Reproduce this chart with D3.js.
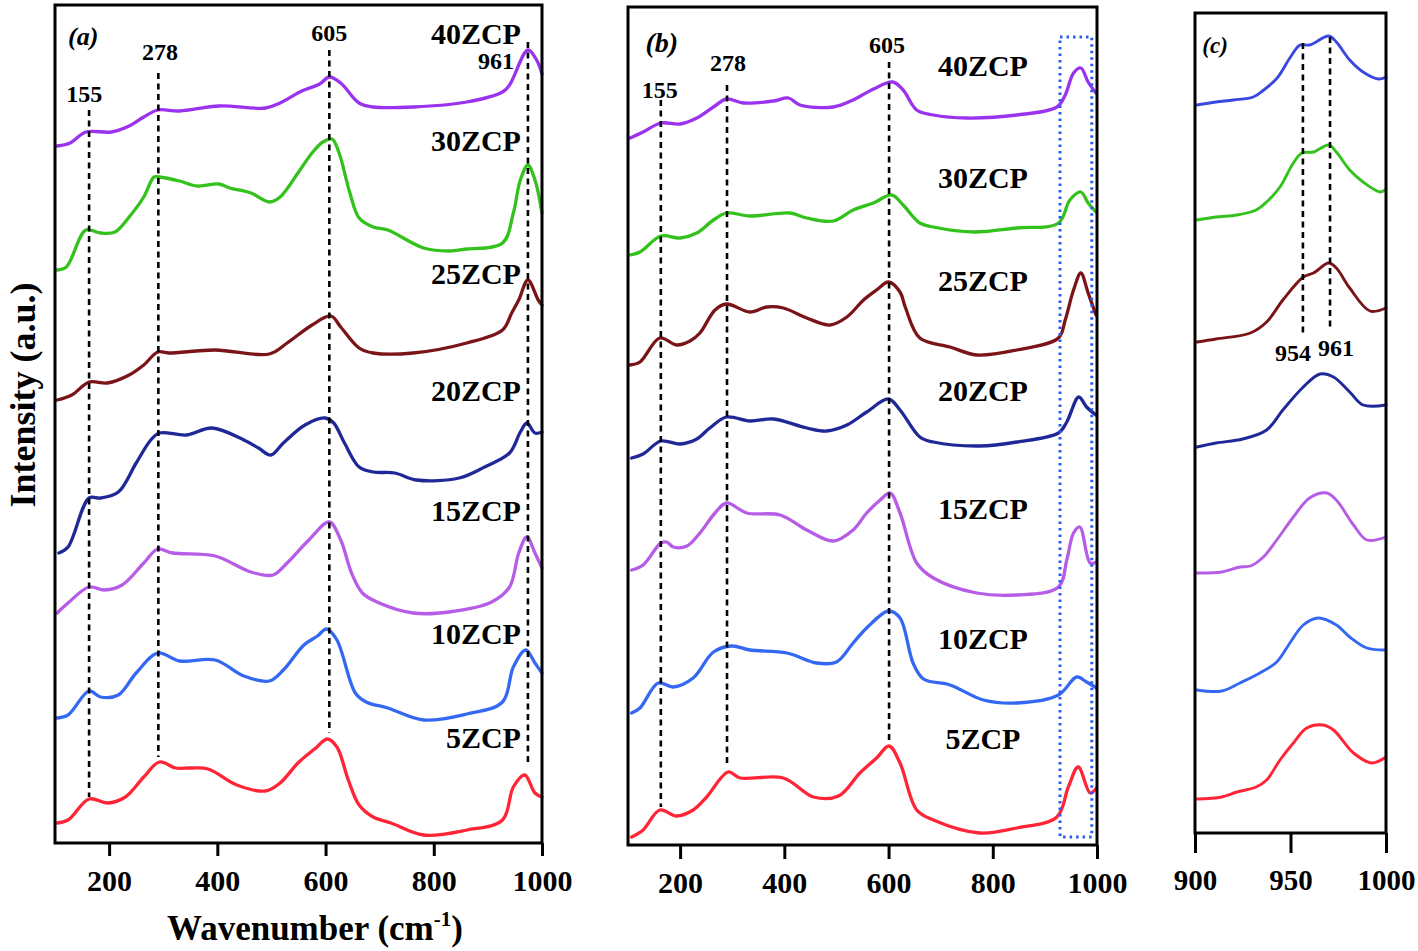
<!DOCTYPE html>
<html><head><meta charset="utf-8">
<script src="https://cdn.jsdelivr.net/npm/d3@7/dist/d3.min.js"></script>
<style>
body{margin:0;background:#fff}
svg{display:block}
text{font-family:"Liberation Serif","Times New Roman",serif;font-weight:bold;fill:#000}
</style>
</head><body>
<svg id="chart" width="1418" height="951"></svg>
<script>
// ---------------- DATA ----------------
const seriesNames = ["40ZCP","30ZCP","25ZCP","20ZCP","15ZCP","10ZCP","5ZCP"];
const tickLabelsMain = [200,400,600,800,1000];
const tickLabelsZoom = [900,950,1000];

// Panel (a): [wavenumber, stacked intensity (a.u.)]
const a40 = [[104,704],[128,707],[157,718],[204,718],[237,724],[264,733],[290,740],[330,739],[403,744],[489,742],[516,747],[556,759],[589,766],[607,773],[628,767],[662,747],[688,743],[762,743],[861,748],[927,758],[940,765],[974,800],[990,790],[1000,776]];
const a30 = [[104,580],[121,583],[157,620],[184,617],[211,618],[237,633],[264,653],[283,673],[293,673],[330,669],[363,664],[403,666],[423,662],[462,657],[496,648],[516,653],[549,677],[575,697],[595,708],[612,711],[625,697],[645,657],[662,632],[688,623],[715,620],[781,602],[828,599],[861,601],[927,607],[947,637],[960,670],[974,685],[987,670],[1000,637]];
const a25 = [[104,450],[131,455],[163,468],[197,467],[237,475],[264,485],[290,498],[310,497],[396,500],[496,496],[529,507],[575,525],[610,534],[628,523],[662,502],[688,497],[762,497],[861,507],[927,520],[944,537],[957,550],[974,570],[993,550],[1000,545]];
const a20 = [[107,297],[124,303],[163,352],[184,352],[217,358],[250,387],[277,410],[293,417],[343,415],[390,422],[449,410],[476,402],[499,395],[522,407],[562,425],[599,432],[615,427],[635,407],[662,383],[688,378],[728,377],[768,370],[847,372],[894,383],[940,397],[960,418],[972,427],[987,417],[1000,418]];
const a15 = [[104,237],[124,247],[163,263],[191,260],[224,265],[264,287],[290,301],[317,297],[396,294],[462,278],[503,275],[529,287],[569,310],[607,328],[628,310],[648,277],[668,257],[695,248],[762,237],[828,238],[907,248],[940,263],[957,297],[972,313],[987,297],[1000,282]];
const a10 = [[104,132],[124,135],[163,159],[184,153],[217,155],[250,177],[290,197],[330,189],[396,190],[449,174],[496,169],[522,180],[560,205],[585,214],[602,221],[621,210],[655,157],[675,148],[715,142],[781,130],[861,136],[927,148],[947,183],[970,200],[987,187],[1000,177]];
const a5 = [[104,27],[124,30],[163,51],[197,47],[230,53],[264,73],[293,88],[323,82],[350,82],[383,81],[436,65],[489,59],[516,67],[549,87],[582,102],[603,111],[621,103],[642,70],[662,45],[688,33],[721,27],[781,15],[861,20],[927,30],[947,63],[968,75],[987,57],[1000,53]];

// Panel (b)
const b40 = [[104,709],[129,715],[163,724],[200,723],[232,729],[264,740],[289,748],[321,744],[379,746],[408,749],[430,742],[494,740],[532,747],[571,758],[608,765],[628,757],[654,737],[686,732],[750,729],[846,732],[923,740],[939,752],[955,774],[969,779],[983,765],[998,754]];
const b30 = [[104,592],[123,595],[163,611],[200,609],[232,614],[264,627],[289,634],[334,631],[411,634],[443,629],[494,626],[532,637],[571,644],[606,652],[628,642],[660,624],[686,620],[763,615],[846,619],[926,624],[948,647],[969,655],[983,644],[998,635]];
const b25 = [[104,482],[123,485],[161,509],[193,502],[219,506],[238,514],[267,537],[289,543],[334,535],[366,540],[398,539],[443,529],[488,522],[520,530],[552,547],[577,557],[600,565],[622,555],[632,540],[660,509],[718,500],[769,492],[846,497],[926,509],[939,527],[955,557],[969,574],[983,554],[998,532]];
const b20 = [[107,389],[129,393],[163,406],[200,403],[232,408],[257,419],[289,430],[334,426],[379,428],[443,419],[481,416],[520,422],[558,435],[600,448],[622,437],[660,410],[686,405],[775,401],[846,405],[926,414],[942,425],[965,450],[980,440],[998,432]];
const b15 = [[107,277],[129,282],[163,304],[174,305],[187,300],[213,301],[238,314],[267,334],[289,344],[328,334],[392,332],[443,317],[494,306],[532,317],[558,334],[584,347],[603,354],[622,334],[654,284],[686,269],[769,254],[846,252],[926,260],[942,287],[955,314],[967,320],[987,284],[999,285]];
const b10 = [[107,134],[123,139],[158,164],[187,160],[225,169],[264,195],[299,201],[334,197],[405,194],[462,184],[500,185],[532,204],[558,219],[600,236],[622,229],[647,184],[667,168],[718,162],[782,147],[846,144],[926,152],[961,170],[980,165],[999,159]];
const b5 = [[107,10],[129,17],[161,37],[193,31],[225,37],[251,50],[292,75],[315,69],[398,69],[456,50],[504,51],[545,74],[577,89],[601,101],[622,84],[654,37],[686,27],[775,14],[846,19],[923,30],[945,60],[964,80],[987,54],[999,59]];

// Panel (c)
const c40 = [[901,732],[911,735],[920,737],[930.5,740],[936,747],[943,759],[950,780],[955,792],[960,792],[970,801],[974,795],[981,777],[988,765],[996,758],[1000,760]];
const c30 = [[901,617],[911,620],[922,622],[932,627],[937.5,635],[944.5,650],[951.5,674],[956,684],[962,685],[970,692],[974,685],[981,667],[988,655],[997,645],[1000,648]];
const c25 = [[901,495],[911,498],[929,504],[937.5,515],[946,537],[956.7,560],[962,564],[970,574],[974,569],[981,549],[991.6,526],[1000,529]];
const c20 = [[901,390],[911,394],[925,398],[937.5,407],[946,427],[956.7,450],[965.5,463],[972.5,460],[981,445],[988,432],[1000,432]];
const c15 = [[901,264],[914,265],[923.5,270],[929,271],[935.8,280],[942.8,297],[951.5,320],[960,339],[969,344],[974,337],[983,312],[990,297],[1000,300]];
const c10 = [[901,147],[914,146],[923.5,154],[934,164],[942.8,175],[949.7,194],[956.7,212],[964.6,219],[974,212],[981,200],[990,189],[1000,187]];
const c5 = [[901,38],[914,40],[922,45],[932,50],[937.5,57],[944.5,77],[951.5,94],[958.5,109],[967,112],[972.5,107],[983,84],[992.5,74],[1000,80]];

// Peak guide lines: [wavenumber position, y top, y bottom] and their labels
const peakLabelsMain = ["155","278","605","961"];
const guidesA = [[163,740,53],[291,777,93],[607,800,117],[974,808,87]];
const guidesB = [[163,747,40],[290,762,80],[601,785,107]];
const peakLabelsZoom = ["954","961"];
const guidesC = [[956.5,794,504],[970.7,800,507]];

// ---------------- STYLE / LAYOUT ----------------
const colorsMain = ["#9a32ee","#33c21c","#7a1418","#1f2896","#b65ce6","#3468f2","#ff2436"];
const colorsZoom = ["#3a48e0","#33c21c","#7a1418","#1f2896","#b65ce6","#3468f2","#ff2436"];

const svg = d3.select("#chart");
const line = (x,y) => d3.line().x(d=>x(d[0])).y(d=>y(d[1])).curve(d3.curveCatmullRom.alpha(0.5));

function panel(cfg){
  const {x,y,series,colors,frameY,ticks,tickSize,tickPad,fontTick,lw} = cfg;
  const g = svg.append("g");
  series.forEach((s,i)=>{
    g.append("path").datum(s).attr("d", line(x,y)(s))
      .attr("fill","none").attr("stroke",colors[i]).attr("stroke-width",lw)
      .attr("stroke-linejoin","round").attr("stroke-linecap","round");
  });
  cfg.guides.forEach((gd)=>{
    g.append("line").attr("x1",x(gd[0])).attr("x2",x(gd[0]))
      .attr("y1",y(gd[1])).attr("y2",y(gd[2]))
      .attr("stroke","#000").attr("stroke-width",2.6).attr("stroke-dasharray","6,4.5");
  });
  const [x0,x1] = x.domain();
  g.append("rect").attr("x",x(x0)).attr("y",y(frameY[1]))
    .attr("width",x(x1)-x(x0)).attr("height",y(frameY[0])-y(frameY[1]))
    .attr("fill","none").attr("stroke","#000").attr("stroke-width",3);
  const ax = d3.axisBottom(x).tickValues(ticks).tickFormat(d3.format("d"))
    .tickSize(tickSize).tickPadding(tickPad).tickSizeOuter(0);
  const ag = g.append("g").attr("transform",`translate(0,${y(frameY[0])})`).call(ax);
  ag.select(".domain").remove();
  ag.selectAll(".tick line").attr("stroke","#000").attr("stroke-width",3);
  ag.selectAll(".tick text").attr("font-size",fontTick).attr("font-family","Liberation Serif, serif").attr("font-weight","bold").attr("fill","#000");
  return g;
}

// Panel (a)
const xA = d3.scaleLinear([100,1000],[55,542]);
const yA = d3.scaleLinear([0,843],[850,7]);
const gA = panel({x:xA,y:yA,series:[a40,a30,a25,a20,a15,a10,a5],colors:colorsMain,frameY:[7,845],
  ticks:tickLabelsMain,tickSize:13,tickPad:14,fontTick:30,lw:3.3,guides:guidesA});
// Panel (b)
const xB = d3.scaleLinear([100,1000],[628,1097]);
const yB = d3.scaleLinear([0,840],[847,7]);
const gB = panel({x:xB,y:yB,series:[b40,b30,b25,b20,b15,b10,b5],colors:colorsMain,frameY:[2,840],
  ticks:tickLabelsMain,tickSize:14,tickPad:13,fontTick:30,lw:3.3,guides:guidesB});
// Panel (c)
const xC = d3.scaleLinear([900,1000],[1195,1386]);
const yC = d3.scaleLinear([0,824],[837,13]);
const gC = panel({x:xC,y:yC,series:[c40,c30,c25,c20,c15,c10,c5],colors:colorsZoom,frameY:[4,824],
  ticks:tickLabelsZoom,tickSize:20,tickPad:16,fontTick:29,lw:2.9,guides:guidesC});

// blue dotted box in (b)
gB.append("rect").attr("x",xB(929)).attr("y",yB(810))
  .attr("width",xB(990)-xB(929)).attr("height",yB(10)-yB(810))
  .attr("fill","none").attr("stroke","#2a5cf0").attr("stroke-width",3).attr("stroke-dasharray","2.5,4");

// series labels
const labelHA = [806,699,566,449,329,206,102];
seriesNames.forEach((n,i)=>{
  gA.append("text").attr("x",xA(961)).attr("y",yA(labelHA[i])).attr("text-anchor","end").attr("font-size",30).text(n);
});
const labelHB = [771,659,556,446,328,198,98];
seriesNames.forEach((n,i)=>{
  gB.append("text").attr("x",xB(781)).attr("y",yB(labelHB[i])).attr("text-anchor","middle").attr("font-size",30).text(n);
});
// peak labels
const peakPosA = [[154,748],[294,790],[607,809],[915,781]];
peakLabelsMain.forEach((t,i)=>{
  gA.append("text").attr("x",xA(peakPosA[i][0])).attr("y",yA(peakPosA[i][1])).attr("text-anchor","middle").attr("font-size",24).text(t);
});
const peakPosB = [[161,749],[292,776],[597,794]];
peakLabelsMain.slice(0,3).forEach((t,i)=>{
  gB.append("text").attr("x",xB(peakPosB[i][0])).attr("y",yB(peakPosB[i][1])).attr("text-anchor","middle").attr("font-size",24).text(t);
});
const peakPosC = [[951.3,476],[973.8,481]];
peakLabelsZoom.forEach((t,i)=>{
  gC.append("text").attr("x",xC(peakPosC[i][0])).attr("y",yC(peakPosC[i][1])).attr("text-anchor","middle").attr("font-size",24).text(t);
});
// panel letters
gA.append("text").attr("x",xA(152)).attr("y",yA(805)).attr("text-anchor","middle").attr("font-size",26).attr("font-style","italic").text("(a)");
gB.append("text").attr("x",xB(165)).attr("y",yB(795)).attr("text-anchor","middle").attr("font-size",28).attr("font-style","italic").text("(b)");
gC.append("text").attr("x",xC(910.5)).attr("y",yC(784)).attr("text-anchor","middle").attr("font-size",23).attr("font-style","italic").text("(c)");

// axis titles
const xt = svg.append("text").attr("x",315).attr("y",940).attr("text-anchor","middle").attr("font-size",35);
xt.append("tspan").text("Wavenumber (cm");
xt.append("tspan").attr("font-size",21).attr("dy",-14).text("-1");
xt.append("tspan").attr("dy",14).text(")");
svg.append("text").attr("transform","translate(35,395) rotate(-90)").attr("text-anchor","middle").attr("font-size",36).text("Intensity (a.u.)");
</script>
</body></html>
